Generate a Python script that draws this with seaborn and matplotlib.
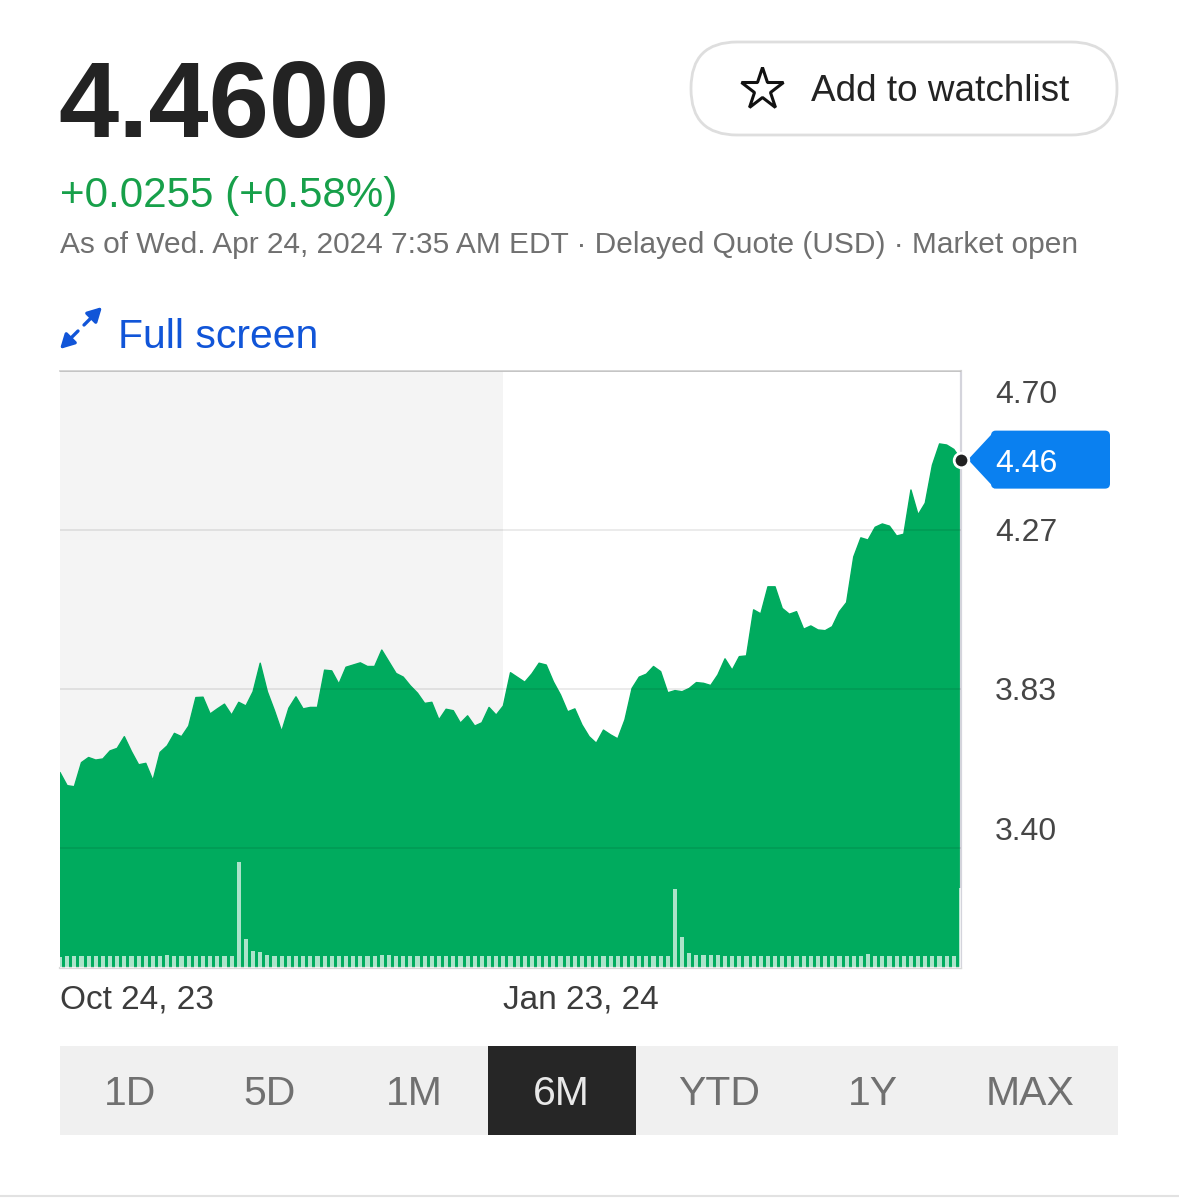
import numpy as np
import pandas as pd
import matplotlib
matplotlib.use("Agg")
import matplotlib.pyplot as plt
import seaborn as sns
from matplotlib.patches import FancyBboxPatch, Polygon, Rectangle, FancyArrowPatch
from matplotlib.lines import Line2D
from matplotlib.transforms import Affine2D

# ---------------- data ----------------
prices = [3.604, 3.568, 3.565, 3.631, 3.645, 3.638, 3.641, 3.663, 3.670, 3.702,
          3.661, 3.625, 3.629, 3.582, 3.659, 3.677, 3.711, 3.702, 3.731, 3.809,
          3.810, 3.764, 3.778, 3.791, 3.761, 3.796, 3.786, 3.825, 3.903, 3.825,
          3.773, 3.716, 3.780, 3.811, 3.778, 3.782, 3.782, 3.884, 3.882, 3.846,
          3.892, 3.898, 3.904, 3.894, 3.894, 3.939, 3.907, 3.875, 3.865, 3.841,
          3.821, 3.793, 3.796, 3.748, 3.777, 3.773, 3.739, 3.759, 3.731, 3.740,
          3.782, 3.761, 3.786, 3.877, 3.864, 3.851, 3.874, 3.903, 3.898, 3.852,
          3.816, 3.770, 3.778, 3.734, 3.702, 3.684, 3.720, 3.707, 3.696, 3.748,
          3.834, 3.865, 3.873, 3.894, 3.880, 3.822, 3.828, 3.825, 3.834, 3.850,
          3.848, 3.842, 3.871, 3.915, 3.884, 3.921, 3.923, 4.049, 4.038, 4.112,
          4.112, 4.053, 4.037, 4.044, 3.996, 4.005, 3.994, 3.992, 4.003, 4.044,
          4.069, 4.194, 4.246, 4.240, 4.275, 4.284, 4.278, 4.251, 4.256, 4.377,
          4.309, 4.341, 4.445, 4.503, 4.500, 4.488, 4.460]

volumes = [0.95, 1.0, 1.0, 1.0, 1.0, 1.0, 1.0, 1.0, 1.0, 1.0,
           1.0, 1.0, 1.0, 1.0, 1.0, 1.08, 1.0, 1.0, 1.0, 1.0,
           1.0, 1.0, 1.0, 1.0, 1.0, 8.8, 2.4, 1.4, 1.3, 1.1,
           1.0, 1.0, 1.0, 1.0, 1.0, 1.0, 1.0, 1.0, 1.0, 1.0,
           1.0, 1.0, 1.0, 1.0, 1.0, 1.12, 1.05, 1.0, 1.0, 1.0,
           1.0, 1.0, 1.0, 1.0, 1.0, 1.0, 1.0, 1.0, 1.0, 1.0,
           1.0, 1.0, 1.0, 1.0, 1.0, 1.0, 1.0, 1.0, 1.0, 1.0,
           1.0, 1.0, 1.0, 1.0, 1.0, 1.0, 1.0, 1.0, 1.0, 1.0,
           1.0, 1.0, 1.0, 1.0, 1.0, 1.0, 6.6, 2.6, 1.25, 1.05,
           1.05, 1.05, 1.05, 1.0, 1.0, 1.0, 1.0, 1.0, 1.0, 1.0,
           1.0, 1.0, 1.0, 1.0, 1.0, 1.0, 1.0, 1.0, 1.0, 1.0,
           1.0, 1.0, 1.0, 1.2, 1.0, 1.0, 1.0, 1.0, 1.0, 1.0,
           1.0, 1.0, 1.0, 1.0, 1.0, 1.0, 6.7]

x_tick_pos = [0, 62]
x_tick_labels = ["Oct 24, 23", "Jan 23, 24"]
y_tick_vals = [3.3975, 3.8325, 4.2675, 4.7025]
y_tick_labels = ["3.40", "3.83", "4.27", "4.70"]
last_label = "4.46"
range_labels = ["1D", "5D", "1M", "6M", "YTD", "1Y", "MAX"]
selected_range = "6M"
quote_text = "4.4600"
change_text = "+0.0255 (+0.58%)"
asof_text = "As of Wed. Apr 24, 2024 7:35 AM EDT \u00b7 Delayed Quote (USD) \u00b7 Market open"
fullscreen_text = "Full screen"
watch_text = "Add to watchlist"

# ---------------- style ----------------
sns.set_theme(style="white")
plt.rcParams["font.family"] = ["Liberation Sans", "DejaVu Sans"]

GREEN = "#00ab5e"
BLUE_TAG = "#0a80f0"
LINK_BLUE = "#1155d8"

W, H = 1179, 1199
fig = plt.figure(figsize=(W / 100, H / 100), dpi=100)
fig.patch.set_facecolor("white")
px = Affine2D().scale(1 / W, -1 / H).translate(0, 1) + fig.transFigure

df = pd.DataFrame({"day": np.arange(len(prices)), "price": prices, "volume": volumes})

ax = fig.add_axes([60 / W, 1 - 968 / H, (961 - 60) / W, (968 - 371) / H])
ax.set_facecolor("white")
ax.axvspan(x_tick_pos[0], x_tick_pos[1], color="#f4f4f4", lw=0, zorder=0)
ax.fill_between(df["day"], df["price"], 0, color=GREEN, lw=0, zorder=1)
sns.lineplot(data=df, x="day", y="price", ax=ax, color=GREEN, lw=1, zorder=1.5)
ax.set_ylim(3.069, 4.7025)
ax.set_yticks(y_tick_vals)
ax.set_yticklabels([])
ax.tick_params(axis="y", length=0)
ax.grid(axis="y", color="black", alpha=0.08, lw=1.4)
ax.grid(axis="x", visible=False)
ax.set_axisbelow(False)
ax.set_xlabel("")
ax.set_ylabel("")

ax.spines["left"].set_visible(False)
ax.spines["top"].set_color("#d2d2d2")
ax.spines["top"].set_linewidth(1.3)
ax.spines["right"].set_color("#d4d4dc")
ax.spines["right"].set_linewidth(1.6)
ax.spines["bottom"].set_color("#d8d8d8")
ax.spines["bottom"].set_linewidth(1.6)

# volume
ax2 = ax.twinx()
sns.barplot(data=df, x="day", y="volume", ax=ax2, native_scale=True, color="white",
            saturation=1, alpha=0.68, width=0.58, errorbar=None, linewidth=0, zorder=3)
ax2.set_ylim(0, 49.7)
ax2.set_yticks([])
ax2.set_ylabel("")
for s in ax2.spines.values():
    s.set_visible(False)

ax.set_xlim(0, len(prices) - 1)
ax.set_xticks(x_tick_pos)
ax.set_xticklabels(x_tick_labels)
for lbl in ax.get_xticklabels():
    lbl.set_ha("left")
ax.tick_params(axis="x", length=0, pad=12, labelsize=24, labelcolor="#3c3c3c")

# y labels on the right
for v, lab in zip(y_tick_vals, y_tick_labels):
    dy = -3
    if v == max(y_tick_vals):
        dy = -24
    elif v == min(y_tick_vals):
        dy = 16
    ax.annotate(lab, xy=(1, v), xycoords=("axes fraction", "data"), xytext=(34, dy),
                textcoords="offset pixels", va="center", ha="left", fontsize=23,
                color="#464646", annotation_clip=False)

# last price tag
fig.canvas.draw()
xd, yd = ax.transData.transform((len(prices) - 1, prices[-1]))
yp = H - yd
tri = Polygon([(xd + 7, yp), (xd + 34, yp - 29), (xd + 34, yp + 29)], closed=True,
              transform=px, fc=BLUE_TAG, ec="none", zorder=4)
fig.add_artist(tri)
rect = FancyBboxPatch((xd + 30, yp - 29), 119, 58, boxstyle="round,pad=0,rounding_size=5",
                      transform=px, fc=BLUE_TAG, ec="none", zorder=4)
fig.add_artist(rect)
fig.text((xd + 34) / W, 1 - (yp + 4) / H, last_label, color="white", fontsize=23,
         va="center", ha="left", zorder=6)
dot = Line2D([len(prices) - 1], [prices[-1]], transform=ax.transData, marker="o", ms=10.5,
             mfc="#222222", mec="white", mew=2, ls="none", zorder=7)
fig.add_artist(dot)

# ---------------- header ----------------
fig.text(58 / W, 1 - 137 / H, quote_text, fontsize=78, fontweight="bold", color="#232323",
         va="baseline", ha="left")
fig.text(60 / W, 1 - 207 / H, change_text, fontsize=30.3, color="#17a04a",
         va="baseline", ha="left")
fig.text(60 / W, 1 - 253 / H, asof_text, fontsize=21.5, color="#707070",
         va="baseline", ha="left")

# watchlist button
btn = FancyBboxPatch((691, 42), 426, 93, boxstyle="round,pad=0,rounding_size=46",
                     transform=px, fc="white", ec="#dedede", lw=2)
fig.add_artist(btn)
fig.add_artist(Line2D([762], [89], transform=px, marker="*", ms=32, mfc="none",
                      mec="#111111", mew=2.2, ls="none"))
fig.text(811 / W, 1 - 101 / H, watch_text, fontsize=26.6, color="#232323",
         va="baseline", ha="left")

# full screen link
arrow_style = "-|>,head_length=0.7,head_width=0.38"
fig.add_artist(FancyArrowPatch((84, 325), (102, 307), transform=px, arrowstyle=arrow_style,
                               mutation_scale=12, lw=2.4, color=LINK_BLUE,
                               shrinkA=0, shrinkB=0))
fig.add_artist(FancyArrowPatch((78, 331), (60, 349), transform=px, arrowstyle=arrow_style,
                               mutation_scale=12, lw=2.4, color=LINK_BLUE,
                               shrinkA=0, shrinkB=0))
fig.text(118 / W, 1 - 348 / H, fullscreen_text, fontsize=29.4, color=LINK_BLUE,
         va="baseline", ha="left")

# ---------------- range selector ----------------
fig.add_artist(Rectangle((60, 1046), 1058, 89, transform=px, fc="#f0f0f0", ec="none"))
range_centers = [130, 270, 414, 561, 719, 873, 1030]
for lab, cx in zip(range_labels, range_centers):
    if lab == selected_range:
        fig.add_artist(Rectangle((488, 1046), 148, 89, transform=px, fc="#262626", ec="none"))
        col = "#e8e8e8"
    else:
        col = "#707070"
    fig.text(cx / W, 1 - 1105 / H, lab, fontsize=29.5, color=col, va="baseline", ha="center")

fig.add_artist(Line2D([0, W], [1196, 1196], transform=px, color="#e2e2e2", lw=1.5))

fig.savefig("out.png", dpi=100)
